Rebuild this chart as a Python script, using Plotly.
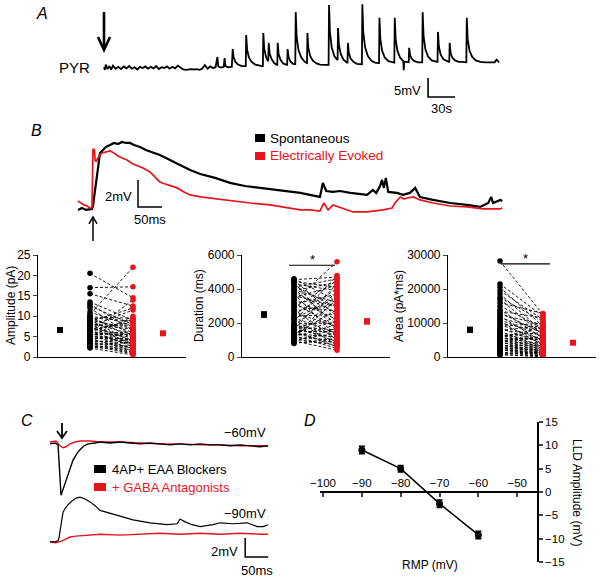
import plotly.graph_objects as go

W, H = 600, 577
FONT = "Liberation Sans, Arial, Helvetica, sans-serif"
RED = "#e8141b"

# ---------------- Panel A: PYR recording, time (s) / voltage change (mV)
a_t = [0, 1, 2, 4, 6, 8, 10, 13, 16, 19, 22, 25, 28, 31, 34, 37, 40, 43, 46, 49, 52, 55, 58, 61, 64, 67, 70,
       73, 76, 79, 82, 85, 88, 91, 94, 97, 100, 103, 106, 109, 112, 115, 118, 121, 124, 126, 127, 130, 133, 134,
       135, 138, 141,
       142, 143, 144, 146, 149, 153, 157,
       157.5, 158, 159, 161, 164, 168, 172, 176,
       176.5, 177, 178, 180, 182,
       182.5, 183, 184, 186, 189, 192,
       192.5, 193, 194, 196, 199, 203,
       203.5, 204, 205, 207, 210, 212,
       212.5, 213, 214, 216, 219, 223, 225,
       225.5, 226, 227, 229, 232, 236, 240, 245, 249,
       249.5, 250, 251, 253, 256, 259,
       259.5, 260, 261, 263, 266, 270,
       270.5, 271, 272, 274, 277, 281, 286,
       286.5, 287, 288, 290, 293, 297, 301, 305,
       305.5, 306, 307, 309, 312, 316, 320, 322,
       322.5, 323, 324, 326, 329, 332.5, 333, 333.5, 337, 338,
       338.5, 339, 340, 342, 345, 349, 353,
       353.5, 354, 355, 357, 360, 364, 368, 370,
       370.5, 371, 372, 374, 377, 381, 383,
       383.5, 384, 385, 387, 390, 394, 398, 402,
       402.5, 403, 404, 406, 409, 413, 418, 424, 430, 434, 436, 437, 439]
a_v = [0.2, -0.5, 0.9, -0.3, 0.5, -0.4, 0.6, -0.2, 0.3, -0.3, 0.4, -0.1, 0.5, -0.2, 0.2, -0.4, 0.3, 0.0, 0.4,
       -0.2, 0.3, -0.1, 0.5, -0.3, 0.2, 0.0, 0.4, -0.2, 0.3, -0.1, 0.6, 0.1, -0.4, -0.5, -0.4, -0.3, -0.4, -0.3,
       -0.5, -0.2, 0.8, -0.2, 0.4, 0.0, 0.2, 2.9, 0.4, 0.1, 0.3, 2.6, 0.5, 0.2, 0.3,
       0.3, 5.0, 2.8, 1.6, 0.9, 0.5, 0.6,
       0.5, 8.7, 4.8, 2.8, 1.6, 0.9, 0.6, 0.5,
       0.5, 9.2, 5.1, 2.9, 1.9,
       1.8, 6.6, 3.9, 2.4, 1.3, 0.8,
       0.8, 6.6, 3.7, 2.2, 1.2, 0.8,
       0.8, 5.0, 2.9, 1.8, 1.1, 1.0,
       1.0, 14.7, 8.3, 4.8, 2.8, 1.6, 1.3,
       1.3, 9.2, 5.3, 3.2, 1.9, 1.2, 0.9, 0.8, 0.8,
       0.8, 16.6, 9.4, 5.4, 3.1, 2.2,
       2.1, 10.5, 6.1, 3.7, 2.2, 1.4,
       1.4, 6.6, 3.9, 2.5, 1.6, 1.1, 1.0,
       1.0, 16.8, 9.5, 5.5, 3.2, 1.9, 1.4, 1.3,
       1.3, 13.2, 7.6, 4.5, 2.7, 1.8, 1.5, 1.4,
       1.4, 13.2, 7.6, 4.5, 2.7, 1.8, -0.6, 1.7, 1.5, 1.5,
       1.5, 5.3, 3.4, 2.4, 1.8, 1.5, 1.5,
       1.5, 14.7, 8.4, 4.9, 3.0, 2.0, 1.6, 1.6,
       1.6, 9.5, 5.6, 3.5, 2.3, 1.7, 1.6,
       1.6, 6.6, 4.0, 2.7, 2.0, 1.6, 1.6, 1.5,
       1.5, 13.2, 7.6, 4.6, 2.9, 2.0, 1.6, 1.5, 1.4, 1.5, 2.2, 1.9, 1.5]

# ---------------- Panel B: averaged LLDs, time (ms) / voltage (mV)
b_t_spont = [-31.2, -22.9, -14.6, -6.2, -2.1, 0, 4.2, 8.3, 12.5, 14.6, 20.8, 27.0, 35.4, 43.7, 52.0, 60.3, 68.6,
             77.0, 85.3, 97.8, 110, 123, 139, 156, 171, 185, 202, 223, 254, 285, 316, 347, 379, 410, 431, 451,
             472, 478, 485, 499, 514, 535, 555, 570, 582, 589, 597, 601, 605, 609, 614, 632, 645, 659, 670, 680,
             707, 743, 778, 805, 822, 828, 832, 847, 851]
b_v_spont = [-0.07, 0.07, -0.07, 0, 0, 0.22, 1.41, 2.74, 3.78, 4.15, 4.37, 4.59, 4.74, 4.89, 4.81, 4.96, 4.89,
             4.89, 4.74, 4.59, 4.37, 4.22, 4.0, 3.7, 3.41, 3.19, 2.89, 2.59, 2.3, 1.93, 1.7, 1.56, 1.41, 1.26, 1.19,
             1.04, 0.89, 1.93, 1.33, 1.26, 1.33, 1.19, 1.11, 1.04, 1.41, 1.19, 1.7, 2.15, 1.56, 2.3, 1.26, 1.19,
             1.04, 1.19, 1.56, 0.89, 0.67, 0.44, 0.3, 0.15, 0.44, 0.89, 0.44, 0.67, 0.59]
b_t_evok = [-31.2, -25.0, -18.7, -12.5, -6.2, -2.1, 0, 3.1, 4.2, 6.2, 12.5, 18.7, 27.0, 35.4, 43.7, 52.0, 60.3,
            70.7, 83.2, 93.6, 104, 118.6, 129, 139, 156, 175, 189, 202, 223, 254, 285, 327, 368, 410, 431, 451,
            472, 480, 489, 499, 510, 520, 541, 570, 587, 603, 622, 628, 639, 647, 653, 666, 680, 707, 743, 778,
            811, 847, 851]
b_v_evok = [0.59, 0.44, 0.3, 0.22, 0.07, 0.07, 4.44, 4.37, 3.63, 3.48, 3.93, 4.15, 4.22, 4.3, 4.15, 3.93, 3.78,
            3.63, 3.33, 3.19, 3.04, 2.74, 2.37, 2.0, 1.78, 1.56, 1.26, 1.04, 0.89, 0.74, 0.59, 0.44, 0.3, 0.07,
            -0.07, -0.07, -0.15, 0.44, -0.07, 0.3, 0.15, 0.07, -0.22, -0.22, -0.15, -0.07, 0.07, 0.44, 0.89, 0.74,
            0.81, 0.89, 0.67, 0.44, 0.22, 0.15, 0, 0, 0.07]

# ---------------- Panel B lower: paired measurements (spontaneous vs evoked)
amp_spont = [20.5, 17.0, 15.5, 13.5, 13.0, 12.5, 12.0, 11.0, 10.5, 10.0, 9.8, 9.5, 9.2, 9.0, 8.7, 8.5, 8.2, 8.0,
             7.8, 7.5, 7.3, 7.0, 6.8, 6.5, 6.3, 6.0, 5.8, 5.6, 5.4, 5.2, 5.0, 4.8, 4.6, 4.4, 4.2, 4.0, 3.8, 3.6,
             3.4, 3.2, 3.0, 2.8, 2.6, 2.4, 2.2, 9.6, 7.9, 6.2, 5.5, 4.5]
amp_evok = [14.5, 17.2, 12.5, 9.0, 6.5, 8.0, 5.0, 7.5, 22.0, 4.5, 9.5, 6.0, 3.5, 7.0, 12.0, 5.5, 2.8, 6.8, 4.0,
            11.5, 3.2, 5.2, 8.5, 2.5, 4.8, 14.0, 3.0, 6.2, 2.0, 4.2, 10.0, 3.8, 1.5, 5.8, 2.2, 3.4, 1.2, 4.4, 2.6,
            1.0, 3.6, 0.8, 2.4, 1.8, 0.5, 8.8, 7.8, 9.2, 5.6, 4.6]
amp_mean = [6.6, 5.8]
amp_sem = [0.5, 0.4]

dur_spont = [4600, 4550, 4500, 4450, 4400, 4300, 4200, 4100, 4000, 3950, 3900, 3800, 3700, 3600, 3500, 3400,
             3300, 3200, 3100, 3000, 2900, 2800, 2700, 2600, 2500, 2400, 2300, 2250, 2200, 1950, 1900, 1850,
             1800, 1750, 1700, 1650, 1600, 1550, 1500, 1450, 1400, 1350, 1300, 1250, 1200, 1150, 1100, 1050,
             1000, 950, 900, 850, 800, 1250, 2100]
dur_evok = [3300, 4700, 2400, 4100, 1500, 3900, 2900, 4600, 1900, 3200, 4400, 2600, 1200, 3000, 4200, 2200,
            5600, 1700, 3700, 2700, 4500, 1000, 3100, 1800, 4000, 2500, 1400, 3500, 700, 2000, 1300, 3800, 900,
            1600, 2300, 1100, 4300, 600, 1500, 2100, 800, 1200, 2800, 500, 1900, 1000, 3400, 700, 1400, 400,
            1700, 900, 1100, 3600, 4800]
dur_mean = [2500, 2100]
dur_sem = [150, 150]

area_spont = [28200, 21500, 20500, 19500, 18500, 17500, 17000, 16000, 15000, 14000, 13500, 13000, 12500, 12000,
              11500, 11000, 10500, 10000, 9500, 9000, 8500, 8000, 7500, 7000, 6800, 6500, 6200, 6000, 5800, 5500,
              5200, 5000, 4800, 4500, 4200, 4000, 3800, 3500, 3200, 3000, 2800, 2500, 2200, 2000, 1800, 1500,
              1200, 1000, 800, 600, 5600, 7800, 4400, 3600, 2600]
area_evok = [12500, 12000, 9000, 11000, 7500, 10500, 6500, 12800, 8500, 5500, 11500, 7000, 9500, 4500, 8000,
             6000, 3500, 7500, 5000, 10000, 4000, 6500, 3000, 5500, 2500, 4800, 7200, 2000, 3800, 5200, 1500,
             3200, 6000, 1000, 2800, 4200, 700, 2200, 3600, 500, 1800, 3000, 300, 1200, 2400, 100, 800, 1600, 0,
             400, 8800, 9200, 5800, 1400, 600]
area_mean = [8000, 4200]
area_sem = [700, 300]

# ---------------- Panel C: LLD at two holding potentials, time (ms) / voltage (mV, traces offset)
c_t_blk60 = [-21.7, -10.9, -4.3, -2.2, 0, 2.2, 4.3, 8.7, 15.2, 21.7, 28.2, 36.9, 43.4, 52.1, 60.8, 76, 86.8,
             108.5, 130.2, 152, 174, 195, 217, 239, 260, 282, 304, 326, 347, 369, 391, 412, 434, 451]
c_v_blk60 = [-0.1, 0, -0.2, -1.8, -3.9, -5.5, -5.2, -4.6, -3.6, -2.6, -1.8, -1.1, -0.7, -0.3, -0.1, 0, 0.1, 0,
             0.1, 0, -0.1, 0, -0.1, -0.2, -0.1, -0.2, -0.1, -0.2, -0.2, -0.3, -0.2, -0.3, -0.4, -0.3]
c_t_red60 = [-21.7, -8.7, 0, 6.5, 13, 21.7, 32.6, 43.4, 65.1, 86.8, 130.2, 173.6, 217, 260.4, 303.8, 347.2,
             390.6, 434, 451.3]
c_v_red60 = [0.1, 0.2, -0.3, -0.5, -0.4, -0.1, 0.1, 0.2, 0.2, 0.1, 0.1, 0, -0.1, -0.1, -0.2, -0.2, -0.3, -0.3,
             -0.3]
c_t_blk90 = [-21.7, -10.9, -4.3, -2.2, 2.2, 4.3, 6.5, 10.9, 17.4, 26, 34.7, 43.4, 54.3, 65.1, 76, 86.8, 108.5,
             136.7, 158.5, 195.3, 232.2, 254, 260.4, 271.3, 286.5, 303.8, 332, 347.2, 375.4, 405.8, 427.5, 440.5,
             451.3]
c_v_blk90 = [-10.4, -10.4, -10.3, -10.0, -8.6, -7.6, -7.3, -6.9, -6.5, -6.1, -5.8, -5.7, -5.9, -6.2, -6.6, -7.1,
             -7.4, -7.8, -8.1, -8.4, -8.6, -8.5, -8.0, -8.3, -8.6, -8.8, -8.6, -8.4, -8.5, -8.4, -8.8, -8.8, -8.6]
c_t_red90 = [-21.7, -8.7, 4.3, 13, 21.7, 34.7, 54.3, 86.8, 130.2, 173.6, 217, 260.4, 303.8, 347.2, 390.6, 434,
             451.3]
c_v_red90 = [-10.4, -10.5, -10.3, -10.1, -9.9, -9.8, -9.7, -9.6, -9.7, -9.6, -9.5, -9.6, -9.5, -9.6, -9.5, -9.6,
             -9.6]

# ---------------- Panel D: LLD amplitude vs RMP
d_rmp = [-90, -80, -70, -60]
d_amp = [9.0, 5.0, -2.5, -9.2]
d_err = [0.8, 0.7, 0.8, 0.8]


# ---------------- helpers (pixel -> paper)
def PX(x):
    return min(max(x / W, 0.0), 1.0)


def PY(y):
    return min(max(1 - y / H, 0.0), 1.0)


def dom_x(x0, x1):
    return [PX(x0), PX(x1)]


def dom_y(y0, y1):
    return [PY(y1), PY(y0)]


fig = go.Figure()
annotations = []
shapes = []


def ann(text, x, y, size=13, color="black", xa="center", ya="middle", angle=0):
    annotations.append(dict(text=text, x=x / W, y=1 - y / H, xref="paper", yref="paper", showarrow=False,
                            xanchor=xa, yanchor=ya, textangle=angle,
                            font=dict(family=FONT, size=size, color=color)))


def pline(pts, width=1.5, color="black"):
    path = "M " + " L ".join(f"{PX(x):.5f},{PY(y):.5f}" for x, y in pts)
    shapes.append(dict(type="path", path=path, xref="paper", yref="paper",
                       line=dict(color=color, width=width)))


def rect(x0, y0, x1, y1, color):
    shapes.append(dict(type="rect", x0=PX(x0), x1=PX(x1), y0=PY(y1), y1=PY(y0), xref="paper", yref="paper",
                       line=dict(width=0), fillcolor=color))


hidden = dict(visible=False, showgrid=False, zeroline=False)
layout_axes = {}

# ---- Panel A axes
layout_axes["xaxis"] = dict(domain=dom_x(100, 510), range=[-4.4, 451], anchor="y", **hidden)
layout_axes["yaxis"] = dict(domain=dom_y(0, 120), range=[-13.7, 17.9], anchor="x", **hidden)
fig.add_trace(go.Scatter(x=a_t, y=a_v, mode="lines", line=dict(color="black", width=1.8), xaxis="x", yaxis="y",
                         hoverinfo="skip"))
# scale bar 5 mV / 30 s
fig.add_trace(go.Scatter(x=[360, 360, 390], y=[-2.63, -7.63, -7.63], mode="lines",
                         line=dict(color="black", width=1.6), xaxis="x", yaxis="y", hoverinfo="skip"))
ann("<i>A</i>", 42, 13, size=16)
ann("PYR", 74, 67, size=15)
ann("5mV", 423, 90, size=13, xa="right")
ann("30s", 441, 109, size=13)
pline([(104, 12), (104, 49)], width=2.6)
pline([(98, 37), (104, 50), (110, 37)], width=2.6)

# ---- Panel B trace axes
layout_axes["xaxis2"] = dict(domain=dom_x(60, 520), range=[-68.6, 888], anchor="y2", **hidden)
layout_axes["yaxis2"] = dict(domain=dom_y(125, 245), range=[-2.67, 6.22], anchor="x2", **hidden)
fig.add_trace(go.Scatter(x=b_t_spont, y=b_v_spont, mode="lines", line=dict(color="black", width=2.2),
                         xaxis="x2", yaxis="y2", hoverinfo="skip"))
fig.add_trace(go.Scatter(x=b_t_evok, y=b_v_evok, mode="lines", line=dict(color=RED, width=1.7),
                         xaxis="x2", yaxis="y2", hoverinfo="skip"))
fig.add_trace(go.Scatter(x=[93.6, 93.6, 143.6], y=[2.15, 0.15, 0.15], mode="lines",
                         line=dict(color="black", width=1.5), xaxis="x2", yaxis="y2", hoverinfo="skip"))
ann("<i>B</i>", 36, 130, size=16)
rect(255, 134, 265, 142, "black")
rect(255, 152, 265, 160, RED)
ann("Spontaneous", 268, 138, size=13.5, xa="left")
ann("Electrically Evoked", 268, 156, size=13.5, xa="left", color=RED)
ann("2mV", 118, 196, size=13)
ann("50ms", 150, 219, size=13)
pline([(93, 241), (93, 217)], width=1.5)
pline([(89, 224), (93, 217), (97, 224)], width=1.5)

# ---- Panel B dot plots
pos = [22, 52, 95, 125]
dot_specs = [
    ("3", 38, amp_spont, amp_evok, amp_mean, amp_sem, [0, 25], [0, 5, 10, 15, 20, 25], "Amplitude (pA)", 11,
     None),
    ("4", 242, dur_spont, dur_evok, dur_mean, dur_sem, [0, 6000], [0, 2000, 4000, 6000], "Duration (ms)", 199,
     (47, 93, 5400)),
    ("5", 448, area_spont, area_evok, area_mean, area_sem, [0, 30000], [0, 10000, 20000, 30000], "Area (pA*ms)",
     399, (53, 102, 27400)),
]
for k, x0, sp, ev, mn, se, yr, tv, title, tx, sig in dot_specs:
    xa, ya = "x" + k, "y" + k
    layout_axes["xaxis" + k] = dict(domain=dom_x(x0, x0 + 148), range=[0, 148], anchor=ya, showline=True,
                                    linecolor="black", linewidth=1.2, ticks="", showticklabels=False,
                                    showgrid=False, zeroline=False)
    layout_axes["yaxis" + k] = dict(domain=dom_y(255, 357), range=yr, anchor=xa, showline=True,
                                    linecolor="black", linewidth=1.2, ticks="outside", ticklen=4, tickwidth=1.2,
                                    tickvals=tv, tickformat="d",
                                    tickfont=dict(family=FONT, size=12, color="black"),
                                    showgrid=False, zeroline=False)
    for s, e in zip(sp, ev):
        fig.add_trace(go.Scatter(x=[pos[1], pos[2]], y=[s, e], mode="lines",
                                 line=dict(color="black", width=0.9, dash="3px,2px"), xaxis=xa, yaxis=ya,
                                 hoverinfo="skip"))
    fig.add_trace(go.Scatter(x=[pos[1]] * len(sp), y=sp, mode="markers",
                             marker=dict(color="black", size=5.5), xaxis=xa, yaxis=ya, hoverinfo="skip"))
    fig.add_trace(go.Scatter(x=[pos[2]] * len(ev), y=ev, mode="markers",
                             marker=dict(color=RED, size=5.5), xaxis=xa, yaxis=ya, hoverinfo="skip"))
    fig.add_trace(go.Scatter(x=[pos[0]], y=[mn[0]], mode="markers",
                             marker=dict(color="black", size=6, symbol="square"),
                             error_y=dict(type="data", array=[se[0]], width=3, thickness=1.2, color="black"),
                             xaxis=xa, yaxis=ya, hoverinfo="skip"))
    fig.add_trace(go.Scatter(x=[pos[3]], y=[mn[1]], mode="markers",
                             marker=dict(color=RED, size=6, symbol="square"),
                             error_y=dict(type="data", array=[se[1]], width=3, thickness=1.2, color=RED),
                             xaxis=xa, yaxis=ya, hoverinfo="skip"))
    if sig:
        fig.add_trace(go.Scatter(x=[sig[0], sig[1]], y=[sig[2], sig[2]], mode="lines",
                                 line=dict(color="black", width=1.1), xaxis=xa, yaxis=ya, hoverinfo="skip"))
        annotations.append(dict(text="*", x=(sig[0] + sig[1]) / 2, y=sig[2], xref=xa, yref=ya, showarrow=False,
                                yanchor="bottom", yshift=-4, font=dict(family=FONT, size=13, color="black")))
    ann(title, tx, 306, size=12, angle=-90)

# ---- Panel C
layout_axes["xaxis6"] = dict(domain=dom_x(40, 280), range=[-43.4, 477], anchor="y6", **hidden)
layout_axes["yaxis6"] = dict(domain=dom_y(410, 576), range=[-14.0, 3.47], anchor="x6", **hidden)
for t, v, c, w in [(c_t_red60, c_v_red60, RED, 1.4), (c_t_blk60, c_v_blk60, "black", 1.4),
                   (c_t_red90, c_v_red90, RED, 1.4), (c_t_blk90, c_v_blk90, "black", 1.2)]:
    fig.add_trace(go.Scatter(x=t, y=v, mode="lines", line=dict(color=c, width=w), xaxis="x6", yaxis="y6",
                             hoverinfo="skip"))
fig.add_trace(go.Scatter(x=[401.5, 401.5, 451.5], y=[-10.0, -12.0, -12.0], mode="lines",
                         line=dict(color="black", width=1.5), xaxis="x6", yaxis="y6", hoverinfo="skip"))
ann("<i>C</i>", 27, 420, size=16)
pline([(62, 423), (62, 438)], width=1.8)
pline([(57, 431), (62, 438), (67, 431)], width=1.8)
ann("\u221260mV", 268, 432, size=13, xa="right")
ann("\u221290mV", 268, 513, size=13, xa="right")
rect(94, 465, 106, 473, "black")
rect(94, 483, 106, 491, RED)
ann("4AP+ EAA Blockers", 110, 469, size=13, xa="left")
ann("+ GABA Antagonists", 110, 487, size=13, xa="left", color=RED)
ann("2mV", 240, 551, size=13, xa="right")
ann("50ms", 257, 570, size=13)

# ---- Panel D
layout_axes["xaxis7"] = dict(domain=dom_x(320, 537), range=[-100.78, -44.9], anchor="free", position=PY(492),
                             side="top", showline=True, linecolor="black", linewidth=1.5, ticks="inside",
                             ticklen=4, tickwidth=1.5, tickvals=[-100, -90, -80, -70, -60, -50],
                             ticktext=["\u2212100", "\u221290", "\u221280", "\u221270", "\u221260", "\u221250"],
                             tickfont=dict(family=FONT, size=11.5, color="black"), showgrid=False, zeroline=False)
layout_axes["yaxis7"] = dict(domain=dom_y(422, 562), range=[-15, 15], anchor="x7", side="right", showline=True,
                             linecolor="black", linewidth=1.5, ticks="outside", ticklen=4, tickwidth=1.5,
                             tickvals=[-15, -10, -5, 0, 5, 10, 15],
                             ticktext=["\u221215", "\u221210", "\u22125", "0", "5", "10", "15"],
                             tickfont=dict(family=FONT, size=11.5, color="black"), showgrid=False, zeroline=False)
fig.add_trace(go.Scatter(x=d_rmp, y=d_amp, mode="lines+markers", line=dict(color="black", width=1.5),
                         marker=dict(color="black", size=7),
                         error_y=dict(type="data", array=d_err, width=3, thickness=1.5, color="black"),
                         xaxis="x7", yaxis="y7", hoverinfo="skip"))
ann("<i>D</i>", 310, 420, size=16)
ann("RMP (mV)", 430, 565, size=12)
ann("LLD Amplitude (mV)", 577, 492, size=12, angle=90)

fig.update_layout(width=W, height=H, margin=dict(l=0, r=0, t=0, b=0, pad=0, autoexpand=False),
                  showlegend=False,
                  paper_bgcolor="white", plot_bgcolor="rgba(0,0,0,0)", annotations=annotations, shapes=shapes,
                  font=dict(family=FONT, color="black"), **layout_axes)
fig.write_html("out.html", config={"displayModeBar": False},
               post_script="document.body.style.margin='0';")
